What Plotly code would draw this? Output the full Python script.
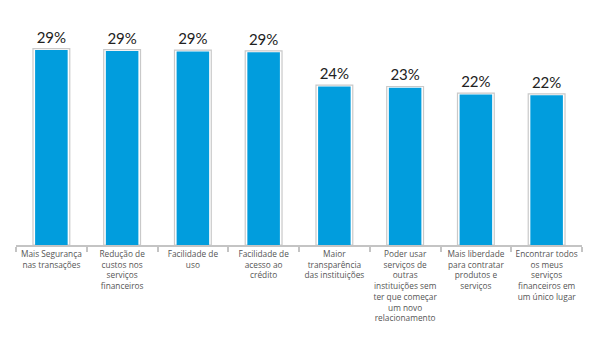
import plotly.graph_objects as go

categories = [
    "Mais Segurança<br>nas transações",
    "Redução de<br>custos nos<br>serviços<br>financeiros",
    "Facilidade de<br>uso",
    "Facilidade de<br>acesso ao<br>crédito",
    "Maior<br>transparência<br>das instituições",
    "Poder usar<br>serviços de<br>outras<br>instituições sem<br>ter que começar<br>um novo<br>relacionamento",
    "Mais liberdade<br>para contratar<br>produtos e<br>serviços",
    "Encontrar todos<br>os meus<br>serviços<br>financeiros em<br>um único lugar",
]
values = [29.05, 28.9, 28.8, 28.7, 23.6, 23.4, 22.4, 22.3]
labels = ["29%", "29%", "29%", "29%", "24%", "23%", "22%", "22%"]

pad = 0.2
fig = go.Figure()
fig.add_trace(go.Bar(
    x=categories, y=[v + pad for v in values], width=0.52,
    marker=dict(color="white", line=dict(color="#c9c9c9", width=1.2)),
    text=labels, textposition="outside", cliponaxis=False,
    textfont=dict(family="Lato", size=15, color="#222"),
    hoverinfo="skip", showlegend=False,
))
fig.add_trace(go.Bar(
    x=categories, y=values, width=0.46,
    marker=dict(color="#019ddd", line=dict(width=0)),
    showlegend=False,
))
fig.update_layout(
    width=600, height=351, barmode="overlay",
    margin=dict(l=16, r=18, t=20, b=106),
    plot_bgcolor="white", paper_bgcolor="white",
    xaxis=dict(showline=True, linecolor="#c4c4c4", linewidth=1.5,
               ticks="outside", tickson="boundaries", ticklen=5,
               tickcolor="#c4c4c4", tickwidth=1.5,
               tickfont=dict(family="Open Sans", size=8.3, color="#555"),
               tickangle=0, showgrid=False),
    yaxis=dict(range=[0, 33.5], visible=False, showgrid=False),
)
fig.write_html("out.html")
